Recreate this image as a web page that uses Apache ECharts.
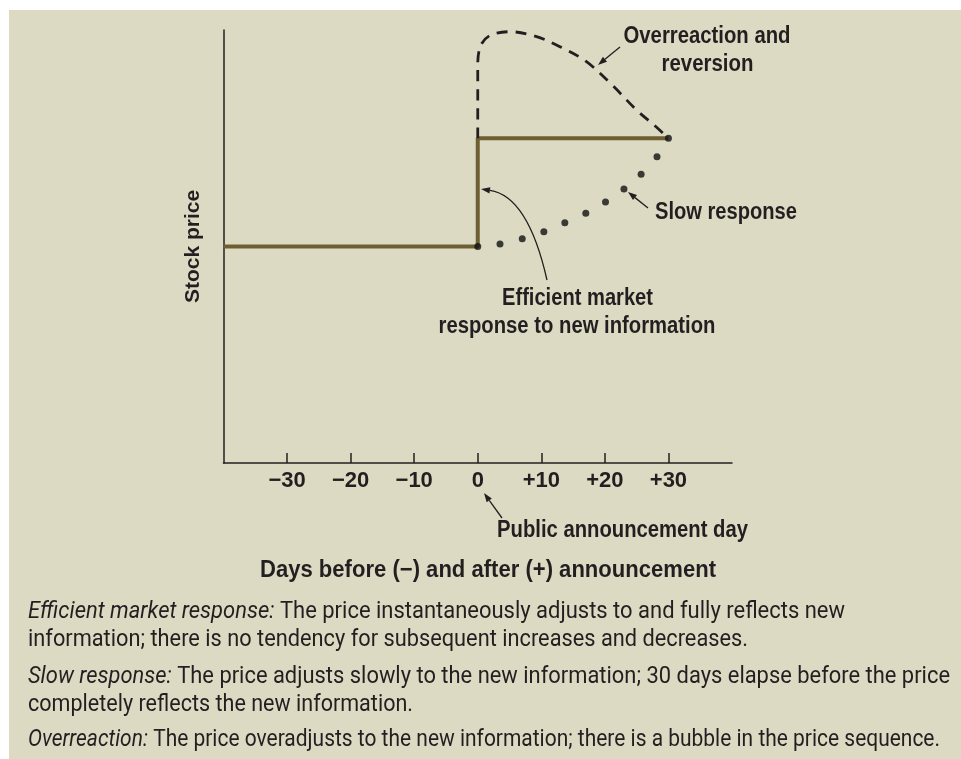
<!DOCTYPE html>
<html><head><meta charset="utf-8">
<script src="https://cdn.jsdelivr.net/npm/echarts@6/dist/echarts.min.js"></script>
<style>html,body{margin:0;padding:0;background:#fff}#c{width:961px;height:759px}</style>
</head><body><div id="c"></div>
<script>
const FONT = "Roboto";
const BOLD = "'Liberation Sans'";
const xTicks = [-30, -20, -10, 0, 10, 20, 30];
const xTickLabels = ['\u221230', '\u221220', '\u221210', '0', '+10', '+20', '+30'];
const efficientDays = [-40, 0, 0, 30];
const efficientPrice = [50, 50, 75, 75];
const overDays = [0, 0, 0.5, 2, 5, 9, 13, 17, 21, 25, 28, 30];
const overPrice = [75, 92, 96.5, 98.8, 99.6, 98.6, 96.1, 92.8, 87.5, 81.5, 77.7, 75];
const slowDays = [0, 3.5, 7.0, 10.4, 13.7, 17.0, 20.1, 23.0, 25.7, 28.2, 30];
const slowPrice = [50, 50.6, 51.8, 53.4, 55.5, 57.7, 60.3, 63.3, 66.7, 70.7, 75];

const zip = (a, b) => a.map((v, i) => [v, b[i]]);
const INK = '#231f20';
const mctx = document.createElement('canvas').getContext('2d');
function measure(text, font) { mctx.font = font; return mctx.measureText(text).width; }

function arrow(x1, y1, x2, y2) {
  const ang = Math.atan2(y2 - y1, x2 - x1), L = 9, W = 3.2;
  const bx = x2 - L * Math.cos(ang), by = y2 - L * Math.sin(ang);
  const px = -Math.sin(ang) * W, py = Math.cos(ang) * W;
  return [
    {type: 'line', shape: {x1, y1, x2: bx, y2: by}, style: {stroke: INK, lineWidth: 1.3}},
    {type: 'polygon', shape: {points: [[x2, y2], [bx + px, by + py], [bx - px, by - py]]}, style: {fill: INK}}
  ];
}
// bold annotation centred at x, fitted to the width seen in the reference
function label(text, x, y, width) {
  const font = 'bold 23.5px ' + BOLD;
  return {type: 'text', x, y, scaleX: width / measure(text, font),
    style: {text, font, fill: INK, textAlign: 'center', textVerticalAlign: 'middle'}};
}
// caption line: optional italic lead + regular rest, fitted so it ends at xEnd
function caption(lead, rest, y, xEnd) {
  const fr = '23px ' + FONT, fi = 'italic 23px ' + FONT;
  const w = (lead ? measure(lead, fi) : 0) + measure(rest, fr);
  const text = (lead ? '{i|' + lead + '}' : '') + rest;
  return {type: 'text', x: 28, y, scaleX: (xEnd - 28) / w,
    style: {text, font: fr, fill: INK, textAlign: 'left', textVerticalAlign: 'middle',
      rich: {i: {fontStyle: 'italic', fontSize: 23, fontFamily: FONT, fill: INK}}}};
}

// curved arrow (efficient)
const cS = [547, 280], cE = [481, 189], cC = [528, 196];
const curveAng = Math.atan2(cE[1] - cC[1], cE[0] - cC[0]);
const cb = [cE[0] - 9 * Math.cos(curveAng), cE[1] - 9 * Math.sin(curveAng)];
const cp = [-Math.sin(curveAng) * 3.2, Math.cos(curveAng) * 3.2];

const chart = echarts.init(document.getElementById('c'));
chart.setOption({
  backgroundColor: '#dddac4',
  animation: false,
  grid: {left: 223.5, top: 30, width: 508.5, bottom: 296, containLabel: false},
  xAxis: {
    type: 'value', min: -40, max: 40, interval: 10,
    axisLine: {show: true, onZero: false, lineStyle: {color: INK, width: 1.5}},
    axisTick: {show: true, inside: true, length: 10, customValues: xTicks, lineStyle: {color: INK, width: 1.5}},
    axisLabel: {customValues: xTicks, margin: 7, color: INK, fontSize: 22, fontWeight: 'bold', fontFamily: BOLD,
      formatter: v => { const i = xTicks.indexOf(v); return i < 0 ? '' : xTickLabels[i]; }},
    splitLine: {show: false}
  },
  yAxis: {
    type: 'value', min: 0, max: 100,
    name: 'Stock price', nameLocation: 'middle', nameGap: 20,
    nameTextStyle: {color: INK, fontSize: 21, fontWeight: 'bold', fontFamily: BOLD},
    axisLine: {show: true, onZero: false, lineStyle: {color: INK, width: 1.5}},
    axisTick: {show: false}, axisLabel: {show: false}, splitLine: {show: false}
  },
  series: [
    {type: 'line', data: zip(efficientDays, efficientPrice), showSymbol: false, z: 2,
      lineStyle: {color: '#6d5f32', width: 4}},
    {type: 'line', data: zip(overDays, overPrice), showSymbol: false, smooth: 0.35, z: 3,
      lineStyle: {color: INK, width: 2.8, type: [11, 8]}},
    {type: 'scatter', data: zip(slowDays, slowPrice), symbolSize: 7, z: 4,
      itemStyle: {color: '#111'}}
  ],
  graphic: [
    {type: 'rect', shape: {x: 0, y: 0, width: 961, height: 10}, style: {fill: '#fff'}},
    {type: 'rect', shape: {x: 0, y: 0, width: 9, height: 759}, style: {fill: '#fff'}},
    label('Overreaction and', 707, 37, 167),
    label('reversion', 707.5, 65, 92),
    ...arrow(620, 47, 598, 65),
    label('Slow response', 726, 213, 142),
    ...arrow(648, 208, 628, 192),
    label('Efficient market', 577.5, 299, 151),
    label('response to new information', 577, 327, 277),
    {type: 'bezierCurve', shape: {x1: cS[0], y1: cS[1], x2: cb[0], y2: cb[1], cpx1: cC[0], cpy1: cC[1]}, style: {stroke: INK, lineWidth: 1.3, fill: null}},
    {type: 'polygon', shape: {points: [cE, [cb[0] + cp[0], cb[1] + cp[1]], [cb[0] - cp[0], cb[1] - cp[1]]]}, style: {fill: INK}},
    label('Public announcement day', 622.5, 531, 251),
    ...arrow(502, 518, 484, 493),
    label('Days before (\u2212) and after (+) announcement', 488, 571, 456),
    caption('Efficient market response:', ' The price instantaneously adjusts to and fully reflects new', 612, 845),
    caption('', 'information; there is no tendency for subsequent increases and decreases.', 640, 748),
    caption('Slow response:', ' The price adjusts slowly to the new information; 30 days elapse before the price', 677, 950),
    caption('', 'completely reflects the new information.', 705, 413),
    caption('Overreaction:', ' The price overadjusts to the new information; there is a bubble in the price sequence.', 740, 940)
  ]
});
</script>
</body></html>
